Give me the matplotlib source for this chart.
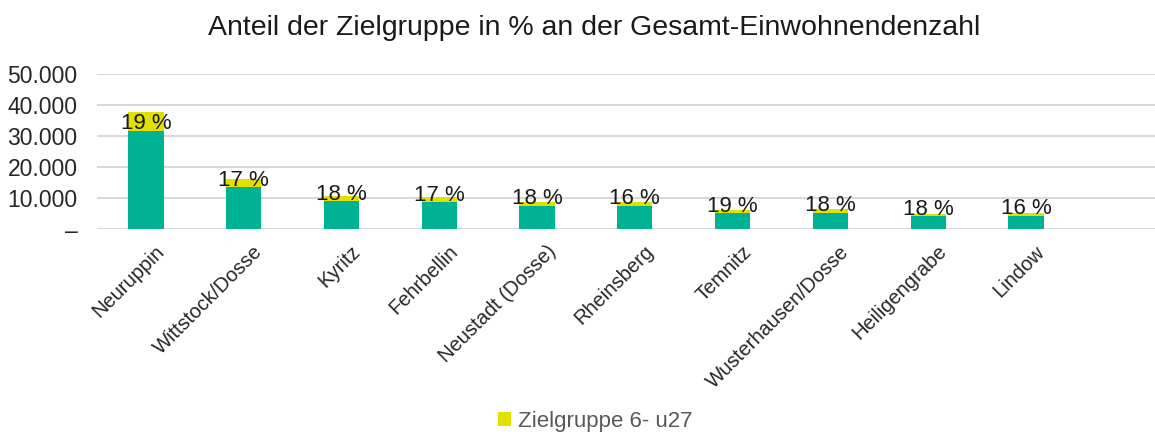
import matplotlib.pyplot as plt
import matplotlib.transforms as mtransforms
from matplotlib.ticker import FuncFormatter

plt.rcParams["font.family"] = ["Liberation Sans", "DejaVu Sans"]

orte = ["Neuruppin", "Wittstock/Dosse", "Kyritz", "Fehrbellin", "Neustadt (Dosse)",
        "Rheinsberg", "Temnitz", "Wusterhausen/Dosse", "Heiligengrabe", "Lindow"]
einwohner = [31800, 13650, 9030, 8800, 7600, 7650, 5250, 5400, 4300, 4400]
zielgruppe = [6200, 2500, 1750, 1800, 1300, 1300, 1050, 1150, 760, 760]
anteil = ["19 %", "17 %", "18 %", "17 %", "18 %", "16 %", "19 %", "18 %", "18 %", "16 %"]

gruen = "#00B294"
gelb = "#E1E000"

fig = plt.figure(figsize=(11.55, 4.32), dpi=100)
ax = fig.add_axes([0.084, 0.469, 0.916, 0.359])

x = list(range(len(orte)))
ax.bar(x, einwohner, width=0.36, color=gruen, zorder=2)
ax.bar(x, zielgruppe, width=0.36, bottom=einwohner, color=gelb, zorder=2,
       label="Zielgruppe 6- u27")

for xi, e, t in zip(x, einwohner, anteil):
    ax.annotate(t, (xi, e), xytext=(0, 1), textcoords="offset points",
                ha="center", va="baseline", fontsize=16, color="#1a1a1a", zorder=3)

ax.set_ylim(0, 50000)
ax.set_xlim(-0.5, 10.32)
ax.set_yticks([0, 10000, 20000, 30000, 40000, 50000])
ax.yaxis.set_major_formatter(FuncFormatter(
    lambda v, p: "–" if v == 0 else f"{int(v):,}".replace(",", ".")))
ax.grid(axis="y", color="#d9d9d9", linewidth=1.5, zorder=0)
ax.tick_params(axis="y", length=0, pad=14, labelsize=16.5, labelcolor="#262626")
ax.tick_params(axis="x", length=0, pad=9, labelsize=14.5, labelcolor="#262626")
for s in ax.spines.values():
    s.set_visible(False)

ax.set_xticks(x)
ax.set_xticklabels(orte, rotation=45, ha="right", rotation_mode="anchor")
shift = mtransforms.ScaledTranslation(9 / 100, 0, fig.dpi_scale_trans)
for lbl in ax.get_xticklabels():
    lbl.set_transform(lbl.get_transform() + shift)

fig.suptitle("Anteil der Zielgruppe in % an der Gesamt-Einwohnendenzahl",
             x=0.514, y=0.965, fontsize=20.5, color="#1a1a1a")

handles, labels = ax.get_legend_handles_labels()
fig.legend(handles, labels, loc="center", bbox_to_anchor=(0.515, 0.024),
           frameon=False, fontsize=16, labelcolor="#595959",
           handlelength=0.6, handleheight=0.6, handletextpad=0.3)

fig.savefig("out.png", dpi=100)
